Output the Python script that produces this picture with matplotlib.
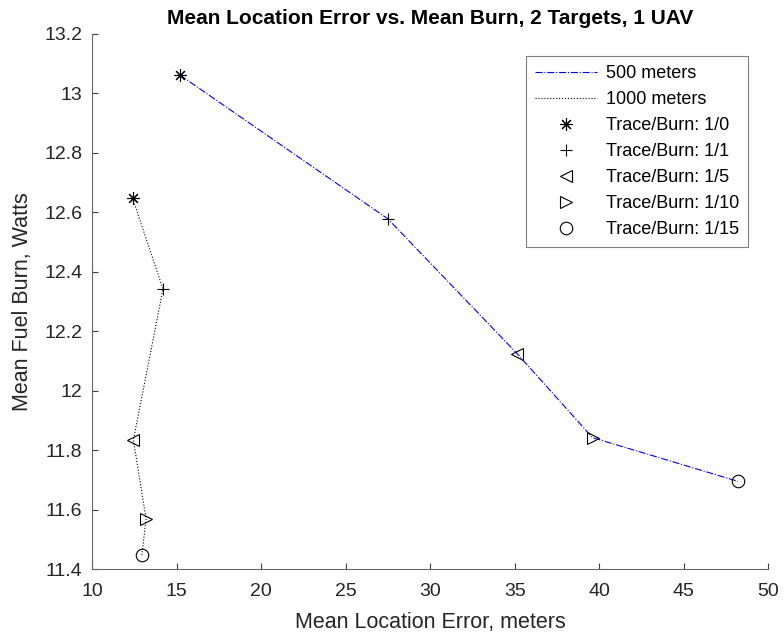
import matplotlib
matplotlib.use('Agg')
import matplotlib.pyplot as plt

plt.rcParams['font.family'] = ['Liberation Sans', 'DejaVu Sans']

# mean location error [m] and mean fuel burn [W] per trace/burn ratio
err_500 = [15.2, 27.5, 35.15, 39.6, 48.2]
burn_500 = [13.062, 12.578, 12.124, 11.842, 11.695]
err_1000 = [12.4, 14.2, 12.45, 13.2, 12.95]
burn_1000 = [12.648, 12.342, 11.834, 11.568, 11.447]
ratios = ['1/0', '1/1', '1/5', '1/10', '1/15']
markers = [(8, 2, 0), '+', '<', '>', 'o']
xticks = list(range(10, 51, 5))
yticks = [11.4, 11.6, 11.8, 12, 12.2, 12.4, 12.6, 12.8, 13, 13.2]
ylabels = ['11.4', '11.6', '11.8', '12', '12.2', '12.4', '12.6', '12.8', '13', '13.2']

fig = plt.figure(figsize=(7.84, 6.39), dpi=100)
ax = fig.add_axes([0.1173, 0.1095, 0.8628, 0.8373])
ax.plot(err_500, burn_500, color='blue', ls='-.', lw=0.8, label='500 meters')
ax.plot(err_1000, burn_1000, color='black', ls=':', lw=0.8, label='1000 meters')
for i, (r, m) in enumerate(zip(ratios, markers)):
    ax.plot([err_500[i], err_1000[i]], [burn_500[i], burn_1000[i]], ls='none', marker=m,
            ms=9, mfc='none', mec='black', mew=0.8, label='Trace/Burn: ' + r)

ax.set_xlim(10, 50); ax.set_ylim(11.4, 13.2)
ax.set_xticks(xticks); ax.set_yticks(yticks); ax.set_yticklabels(ylabels)
for s in ['top', 'right']: ax.spines[s].set_visible(False)
for s in ['left', 'bottom']: ax.spines[s].set_color('0.4')
ax.tick_params(direction='in', length=4.5, color='0.25', labelsize=14, labelcolor='0.15')
ax.tick_params(axis='x', pad=10)
ax.tick_params(axis='y', pad=7)
ax.set_xlabel('Mean Location Error, meters', fontsize=15.5, color='0.15', labelpad=9)
ax.set_ylabel('Mean Fuel Burn, Watts', fontsize=15.5, color='0.15', labelpad=8)
ax.set_title('Mean Location Error vs. Mean Burn, 2 Targets, 1 UAV', fontsize=15, fontweight='bold', pad=7)
leg = ax.legend(loc='upper right', bbox_to_anchor=(0.9697, 0.9589), borderaxespad=0, fontsize=13,
                fancybox=False, edgecolor='0.5', framealpha=1, handlelength=3.4, handletextpad=0.5,
                labelspacing=0.5, borderpad=0.5)
leg.get_frame().set_linewidth(0.8)
fig.savefig('out.png', dpi=100)
